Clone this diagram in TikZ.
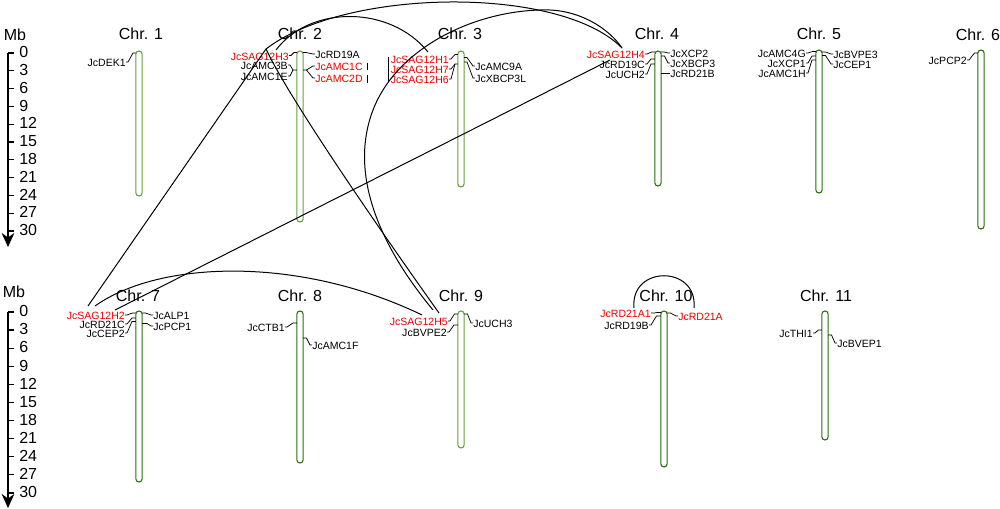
\documentclass[tikz,border=0pt]{standalone}
\usepackage{fontspec}
\setmainfont{Liberation Sans}
\usetikzlibrary{arrows.meta}
\definecolor{chrlight}{RGB}{100,160,60}
\definecolor{chrdark}{RGB}{40,110,10}
\definecolor{genered}{RGB}{235,0,0}
\begin{document}
\begin{tikzpicture}[x=0.75pt,y=-0.75pt,
  gene/.style={font=\fontsize{7.9}{9}\selectfont, inner sep=0pt, text height=0.716em, text depth=0pt},
  redgene/.style={gene, text=genered},
  biglab/.style={font=\fontsize{12}{14}\selectfont, inner sep=0pt, text height=0.716em, text depth=0pt},
  lead/.style={line width=0.55pt, black},
  syn/.style={line width=0.75pt, black},
  tubeL/.style={line width=0.8pt, draw=chrlight, fill=white, rounded corners=2.4pt},
  tubeD/.style={line width=0.8pt, draw=chrdark, fill=white, rounded corners=2.4pt},
  axisline/.style={line width=0.9pt, black},
]
\useasboundingbox (0,0) rectangle (1000,509);

% ---------- scales ----------
\node[biglab] (mbtop) at (15,36) {Mb};
\draw[axisline, -{Stealth[length=10.5pt,width=9.5pt]}] (8,53) -- (8,247);
\foreach \k in {0,...,10} {
  \pgfmathtruncatemacro\v{3*\k}
  \draw[axisline] (8,53+17.8*\k) -- (14,53+17.8*\k);
  \node[biglab, anchor=west] (tt\k) at (19,53+17.8*\k) {\v};
}
\node[biglab] (mbbot) at (14,293) {Mb};
\draw[axisline, -{Stealth[length=10.5pt,width=9.5pt]}] (8,312) -- (8,508);
\foreach \k in {0,...,10} {
  \pgfmathtruncatemacro\v{3*\k}
  \draw[axisline] (8,312+18.1*\k) -- (14,312+18.1*\k);
  \node[biglab, anchor=west] (tb\k) at (19,312+18.1*\k) {\v};
}

% ---------- chromosome labels ----------
\node[biglab] (c1) at (141,35) {Chr. 1};
\node[biglab] (c2) at (300,35) {Chr. 2};
\node[biglab] (c3) at (460,35) {Chr. 3};
\node[biglab] (c4) at (657,35) {Chr. 4};
\node[biglab] (c5) at (819,35) {Chr. 5};
\node[biglab] (c6) at (978,36) {Chr. 6};
\node[biglab] (c7) at (138,297) {Chr. 7};
\node[biglab] (c8) at (300,297) {Chr. 8};
\node[biglab] (c9) at (461,297) {Chr. 9};
\node[biglab] (c10) at (666,297) {Chr. 10};
\node[biglab] (c11) at (826,297) {Chr. 11};

% ---------- chromosomes ----------
\draw[tubeL] (135.8,51) rectangle (142.2,196);
\draw[tubeL] (296.8,51) rectangle (303.2,222);
\draw[tubeL] (457.8,51) rectangle (464.2,187);
\draw[tubeD] (654.8,51) rectangle (661.2,186);
\draw[tubeD] (815.8,50) rectangle (822.2,193);
\draw[tubeD] (977.8,50) rectangle (984.2,229);
\draw[tubeD] (135.8,311) rectangle (142.2,482);
\draw[tubeD] (296.8,311) rectangle (303.2,463);
\draw[tubeL] (457.8,311) rectangle (464.2,448);
\draw[tubeD] (660.8,311) rectangle (667.2,467);
\draw[tubeD] (821.8,311) rectangle (828.2,440);

% ---------- genes: chr 1 ----------
\node[gene, anchor=east] (dek1) at (126,62) {JcDEK1};
\draw[lead] (dek1.east) -- ++(2,0) -- (133,53) -- (135.8,53);

% ---------- chr 2 ----------
\node[redgene, anchor=east] (sag3) at (289,55.5) {JcSAG12H3};
\node[gene, anchor=east] (amc3b) at (288,65) {JcAMC3B};
\node[gene, anchor=east] (amc1e) at (288,76) {JcAMC1E};
\draw[lead] (sag3.east) -- ++(2,0) -- (294,52.5) -- (296.8,52.5);
\draw[lead] (amc3b.east) -- ++(2,0) -- (293,70) -- (296.8,70);
\draw[lead] (amc1e.east) -- ++(2,0) -- (293,70);
\node[gene, anchor=west] (rd19a) at (315,54) {JcRD19A};
\node[redgene, anchor=west] (amc1c) at (315,66) {JcAMC1C};
\node[redgene, anchor=west] (amc2d) at (315,78) {JcAMC2D};
\draw[lead] (rd19a.west) -- ++(-2,0) -- (306,52.5) -- (303.2,52.5);
\draw[lead] (amc1c.west) -- ++(-2,0) -- (306.5,70) -- (303.2,70);
\draw[lead] (amc2d.west) -- ++(-2,0) -- (306.5,70);
\draw[lead] (367,63) -- (367,70);
\draw[lead] (367,75) -- (367,83);

% ---------- chr 3 ----------
\node[redgene, anchor=east] (sag1) at (449,59) {JcSAG12H1};
\node[redgene, anchor=east] (sag7) at (449,69) {JcSAG12H7};
\node[redgene, anchor=east] (sag6) at (449,79) {JcSAG12H6};
\draw[lead] (sag1.east) -- ++(2,0) -- (455,54.5) -- (457.8,54.5);
\draw[lead] (sag7.east) -- ++(2,0) -- (455,64) -- (457.8,64);
\draw[lead] (sag6.east) -- ++(2,0) -- (455,64);
\draw[lead] (388,57) -- (388,82);
\node[gene, anchor=west] (amc9a) at (475,66) {JcAMC9A};
\node[gene, anchor=west] (xbcp3l) at (475,78) {JcXBCP3L};
\draw[lead] (amc9a.west) -- ++(-2,0) -- (467,57.5) -- (464.2,57.5);
\draw[lead] (xbcp3l.west) -- ++(-2,0) -- (467,62) -- (464.2,62);

% ---------- chr 4 ----------
\node[redgene, anchor=east] (sag4) at (645,54) {JcSAG12H4};
\node[gene, anchor=east] (rd19c) at (645,64) {JcRD19C};
\node[gene, anchor=east] (uch2) at (645,74) {JcUCH2};
\draw[lead] (sag4.east) -- ++(2,0) -- (651.5,52) -- (654.8,52);
\draw[lead] (rd19c.east) -- ++(2,0) -- (651,59) -- (654.8,59);
\draw[lead] (uch2.east) -- ++(2,0) -- (651,64) -- (654.8,64);
\node[gene, anchor=west] (xcp2) at (670,53) {JcXCP2};
\node[gene, anchor=west] (xbcp3) at (670,63) {JcXBCP3};
\node[gene, anchor=west] (rd21b) at (670,73) {JcRD21B};
\draw[lead] (xcp2.west) -- ++(-2,0) -- (664,52) -- (661.2,52);
\draw[lead] (xbcp3.west) -- ++(-2,0) -- (664.5,56) -- (661.2,56);
\draw[lead] (rd21b.west) -- (661.2,73);

% ---------- chr 5 ----------
\node[gene, anchor=east] (amc4g) at (806,53) {JcAMC4G};
\node[gene, anchor=east] (xcp1) at (806,63) {JcXCP1};
\node[gene, anchor=east] (amc1h) at (806,73) {JcAMC1H};
\draw[lead] (amc4g.east) -- ++(2,0) -- (812.5,51.5) -- (815.8,51.5);
\draw[lead] (xcp1.east) -- ++(2,0) -- (812,56) -- (815.8,56);
\draw[lead] (amc1h.east) -- ++(2,0) -- (812,60) -- (815.8,60);
\node[gene, anchor=west] (bvpe3) at (833,54) {JcBVPE3};
\node[gene, anchor=west] (cep1) at (833,64) {JcCEP1};
\draw[lead] (bvpe3.west) -- ++(-2,0) -- (825.5,52) -- (822.2,52);
\draw[lead] (cep1.west) -- ++(-2,0) -- (825.5,55.5) -- (822.2,55.5);

% ---------- chr 6 ----------
\node[gene, anchor=east] (pcp2) at (967,60) {JcPCP2};
\draw[lead] (pcp2.east) -- ++(2,0) -- (974.5,53) -- (977.8,53);

% ---------- chr 7 ----------
\node[redgene, anchor=east] (sag2) at (125,315) {JcSAG12H2};
\node[gene, anchor=east] (rd21c) at (125,324) {JcRD21C};
\node[gene, anchor=east] (cep2) at (125,333) {JcCEP2};
\draw[lead] (sag2.east) -- ++(2,0) -- (132.5,313) -- (135.8,313);
\draw[lead] (rd21c.east) -- ++(2,0) -- (132,318) -- (135.8,318);
\draw[lead] (cep2.east) -- ++(2,0) -- (132,321.5) -- (135.8,321.5);
\node[gene, anchor=west] (alp1) at (153,315) {JcALP1};
\node[gene, anchor=west] (pcp1) at (153,326) {JcPCP1};
\draw[lead] (alp1.west) -- ++(-2,0) -- (145.5,313) -- (142.2,313);
\draw[lead] (pcp1.west) -- ++(-2,0) -- (147,323.5) -- (142.2,323.5);

% ---------- chr 8 ----------
\node[gene, anchor=east] (ctb1) at (285,327) {JcCTB1};
\draw[lead] (ctb1.east) -- ++(2,0) -- (293,323) -- (296.8,323);
\node[gene, anchor=west] (amc1f) at (312,345) {JcAMC1F};
\draw[lead] (amc1f.west) -- ++(-2,0) -- (306.5,338) -- (303.2,338);

% ---------- chr 9 ----------
\node[redgene, anchor=east] (sag5) at (448,321) {JcSAG12H5};
\node[gene, anchor=east] (bvpe2) at (447,332) {JcBVPE2};
\draw[lead] (sag5.east) -- ++(2,0) -- (454.5,314) -- (457.8,314);
\draw[lead] (bvpe2.east) -- ++(2,0) -- (454,325) -- (457.8,325);
\node[gene, anchor=west] (uch3) at (473,323) {JcUCH3};
\draw[lead] (uch3.west) -- ++(-2,0) -- (467.5,314) -- (464.2,314);

% ---------- chr 10 ----------
\node[redgene, anchor=east] (rd21a1) at (651,313) {JcRD21A1};
\node[gene, anchor=east] (rd19b) at (649,325) {JcRD19B};
\draw[lead] (rd21a1.east) -- ++(3,0) -- (657.5,312.5) -- (660.8,312.5);
\draw[lead] (rd19b.east) -- ++(2,0) -- (656.5,316) -- (660.8,316);
\node[redgene, anchor=west] (rd21a) at (678,316) {JcRD21A};
\draw[lead] (rd21a.west) -- ++(-2,0) -- (670.5,313) -- (667.2,313);

% ---------- chr 11 ----------
\node[gene, anchor=east] (thi1) at (813,333) {JcTHI1};
\draw[lead] (thi1.east) -- ++(2,0) -- (818.5,330) -- (821.8,330);
\node[gene, anchor=west] (bvep1) at (837,343) {JcBVEP1};
\draw[lead] (bvep1.west) -- ++(-2,0) -- (831.5,335) -- (828.2,335);

% ---------- synteny links ----------
\coordinate (h3a) at (266,49);
\coordinate (h3b) at (276,50);
\coordinate (h4) at (622,48);
\coordinate (h4b) at (610,60);
\coordinate (h1) at (428,52);
\coordinate (h5a) at (433,310);
\coordinate (h5b) at (439,313);
\coordinate (h5c) at (422,315);
\coordinate (h2a) at (88,306);
\coordinate (h2b) at (95,306);
\coordinate (h2c) at (115,310);
\coordinate (ra1) at (634,308);
\coordinate (ra) at (694,308);

\draw[syn] (h3a) .. controls (345,-12) and (560,-15) .. (h4);
\draw[syn] (h3b) .. controls (310,5) and (390,5) .. (h1);
\draw[syn] (h5a) .. controls (375,240) and (350,170) .. (373,110)
               .. controls (396,50) and (470,12) .. (540,10)
               .. controls (580,8) and (610,30) .. (h4);
\draw[syn] (h3a) .. controls (290,100) and (380,230) .. (h5b);
\draw[syn] (h2a) -- (h3a);
\draw[syn] (h2c) -- (h4b);
\draw[syn] (h2b) .. controls (160,260) and (300,256) .. (h5c);
\draw[syn] (ra1) .. controls (630,265) and (698,265) .. (ra);
\end{tikzpicture}
\end{document}
